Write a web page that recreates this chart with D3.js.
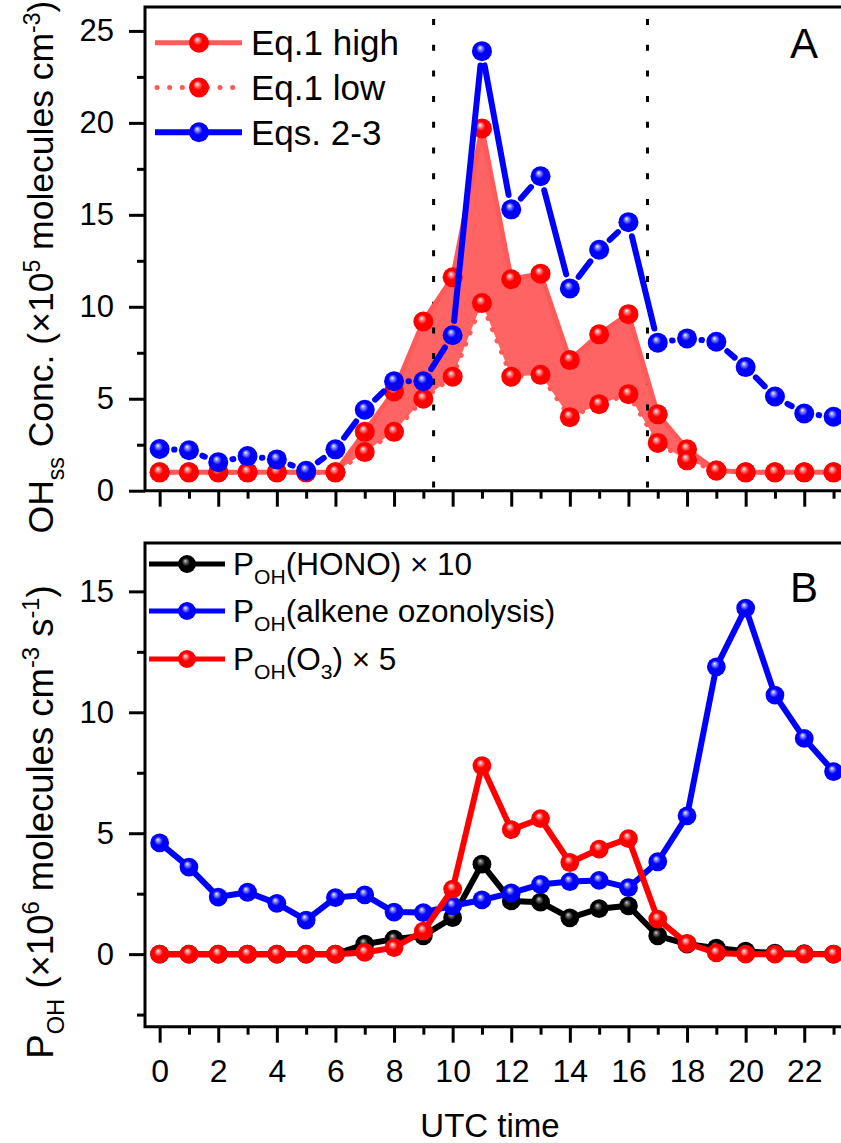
<!DOCTYPE html>
<html><head><meta charset="utf-8">
<script src="https://cdn.jsdelivr.net/npm/d3@7"></script>
<style>
body{margin:0;background:#fff}
svg{display:block}
text{font-family:Arial,"Liberation Sans",sans-serif;fill:#000}
</style>
</head><body>
<svg id="c" width="841" height="1143"></svg>
<script>
// ---------------- data ----------------
const hours = [0,1,2,3,4,5,6,7,8,9,10,11,12,13,14,15,16,17,18,19,20,21,22,23];
// Panel A: OHss concentration (x1e5 molecules cm-3)
const eq1High = [1.0,1.0,1.0,1.0,1.0,1.0,1.0,3.2,5.4,9.2,11.6,19.7,11.5,11.8,7.1,8.5,9.6,4.15,2.25,1.1,1.0,1.0,1.0,1.0];
const eq1Low  = [1.0,1.0,1.0,1.0,1.0,1.0,1.0,2.1,3.2,5.0,6.2,10.2,6.2,6.3,4.0,4.7,5.25,2.6,1.65,1.1,1.0,1.0,1.0,1.0];
const eqs23   = [2.27,2.2,1.55,1.88,1.7,1.08,2.25,4.4,5.95,5.95,8.45,23.9,15.3,17.1,11.0,13.1,14.6,8.05,8.28,8.1,6.72,5.12,4.2,4.02];
// Panel B: P_OH (x1e6 molecules cm-3 s-1)
const honoX10 = [0,0,0,0,0,0,0,0.41,0.62,0.76,1.51,3.72,2.2,2.15,1.5,1.88,2.0,0.76,0.42,0.25,0.12,0.04,0.02,0];
const alkene  = [4.6,3.6,2.36,2.56,2.1,1.41,2.34,2.45,1.74,1.72,2.0,2.24,2.53,2.88,3.0,3.05,2.75,3.82,5.72,11.88,14.31,10.71,8.92,7.55];
const o3X5    = [0,0,0,0,0,0,0,0.07,0.27,0.95,2.69,7.79,5.15,5.6,3.79,4.34,4.78,1.45,0.44,0.05,0,0,0,0];
const dayBounds = [9.35, 16.65];
// ticks
const xMajor = [0,2,4,6,8,10,12,14,16,18,20,22];
const xMinor = [1,3,5,7,9,11,13,15,17,19,21,23];
const aMajor = [0,5,10,15,20,25];
const aMinor = [2.5,7.5,12.5,17.5,22.5];
const bMajor = [0,5,10,15];
const bMinor = [-2.5,2.5,7.5,12.5];

// ---------------- setup ----------------
const svg = d3.select("#c");
const W = 841;
const X0 = 145, X1 = 848.2;
const x = d3.scaleLinear().domain([-0.5, 23.5]).range([X0, X1]);
const yA = d3.scaleLinear().domain([0, 26.3]).range([490.7, 7]);
const yB = d3.scaleLinear().domain([-3, 17]).range([1026.7, 543]);

const defs = svg.append("defs");
function ball(id, base, mid, hi) {
  const g = defs.append("radialGradient").attr("id", id)
    .attr("cx", "50%").attr("cy", "50%").attr("r", "55%")
    .attr("fx", "40%").attr("fy", "32%");
  g.append("stop").attr("offset", "0%").attr("stop-color", hi);
  g.append("stop").attr("offset", "14%").attr("stop-color", mid);
  g.append("stop").attr("offset", "42%").attr("stop-color", base);
  g.append("stop").attr("offset", "100%").attr("stop-color", base);
}
ball("gRed", "#ff0000", "#ff9a9a", "#ffffff");
ball("gBlue", "#0000ff", "#9a9aff", "#ffffff");
ball("gBlack", "#000000", "#777777", "#d8d8d8");

function markers(g, y, vals, grad, r) {
  g.append("g").selectAll("circle").data(hours).join("circle")
    .attr("cx", d => x(d)).attr("cy", (d, i) => y(vals[i]))
    .attr("r", r).attr("fill", `url(#${grad})`);
}

// ---------------- Panel A ----------------
const gA = svg.append("g");
const area = d3.area().x((d, i) => x(hours[i])).y0((d, i) => yA(eq1Low[i])).y1((d, i) => yA(eq1High[i]));
gA.append("path").datum(eq1High).attr("d", area).attr("fill", "#ff6464");

// day boundary dotted lines
gA.selectAll("line.vb").data(dayBounds).join("line").attr("class", "vb")
  .attr("x1", d => x(d)).attr("x2", d => x(d)).attr("y1", yA.range()[1] + 12).attr("y2", yA.range()[0])
  .attr("stroke", "#000").attr("stroke-width", 3).attr("stroke-dasharray", "6,19.7");

const lineA = d3.line().x((d, i) => x(hours[i])).y(d => yA(d));
gA.append("path").datum(eq1High).attr("d", lineA).attr("fill", "none")
  .attr("stroke", "#ff5a5a").attr("stroke-width", 5).attr("stroke-linejoin", "round");
gA.append("path").datum(eq1Low).attr("d", lineA).attr("fill", "none")
  .attr("stroke", "#ff5a5a").attr("stroke-width", 5).attr("stroke-linecap", "round")
  .attr("stroke-dasharray", "0.1,12");
markers(gA, yA, eq1High, "gRed", 10);
markers(gA, yA, eq1Low, "gRed", 10);

// blue line with gaps at symbols
const gap = 14.5;
const segs = d3.pairs(hours.map((h, i) => [x(h), yA(eqs23[i])]));
gA.append("g").selectAll("line").data(segs).join("line")
  .each(function([p, q]) {
    const dx = q[0] - p[0], dy = q[1] - p[1], L = Math.hypot(dx, dy);
    const ux = dx / L, uy = dy / L;
    let a = gap, b = L - gap;
    if (b <= a) { const m = L / 2; a = m - 0.05; b = m + 0.05; }
    d3.select(this).attr("x1", p[0] + ux * a).attr("y1", p[1] + uy * a)
      .attr("x2", p[0] + ux * b).attr("y2", p[1] + uy * b);
  })
  .attr("stroke", "#0000ff").attr("stroke-width", 6).attr("stroke-linecap", "round");
markers(gA, yA, eqs23, "gBlue", 10);

// ---------------- Panel B ----------------
const gB = svg.append("g");
const lineB = d3.line().x((d, i) => x(hours[i])).y(d => yB(d));
[[honoX10, "#000000", "gBlack"], [alkene, "#0000ff", "gBlue"], [o3X5, "#ff0000", "gRed"]].forEach(([vals, col, grad]) => {
  gB.append("path").datum(vals).attr("d", lineB).attr("fill", "none")
    .attr("stroke", col).attr("stroke-width", 6).attr("stroke-linejoin", "round");
  markers(gB, yB, vals, grad, 9.4);
});

// ---------------- axes ----------------
function styleAxis(g, fs) {
  g.selectAll("path.domain").remove();
  g.selectAll("line").attr("stroke", "#000").attr("stroke-width", 3);
  g.selectAll("text").attr("font-size", fs).attr("fill", "#000");
}
function frame(y, yMaj, yMin, labelsX) {
  const [yb, yt] = y.range();
  const gl = svg.append("g").attr("transform", `translate(${X0},0)`);
  gl.call(d3.axisLeft(y).tickValues(yMaj).tickSize(16).tickPadding(15).tickFormat(d3.format("d")));
  styleAxis(gl, 31);
  const gl2 = svg.append("g").attr("transform", `translate(${X0},0)`);
  gl2.call(d3.axisLeft(y).tickValues(yMin).tickSize(8).tickFormat(""));
  styleAxis(gl2, 31);
  const gx = svg.append("g").attr("transform", `translate(0,${yb})`);
  gx.call(d3.axisBottom(x).tickValues(xMajor).tickSize(16).tickPadding(17).tickFormat(labelsX ? d3.format("d") : ""));
  styleAxis(gx, 32);
  const gx2 = svg.append("g").attr("transform", `translate(0,${yb})`);
  gx2.call(d3.axisBottom(x).tickValues(xMinor).tickSize(8).tickFormat(""));
  styleAxis(gx2, 32);
  svg.append("path").attr("d", `M${W + 5},${yt}H${X0}V${yb}H${W + 5}`)
    .attr("fill", "none").attr("stroke", "#000").attr("stroke-width", 3).attr("stroke-linecap", "square");
}
frame(yA, aMajor, aMinor, false);
frame(yB, bMajor, bMinor, true);

// ---------------- text ----------------
function rich(parent, parts, size, ratio) {
  let shift = 0;
  parts.forEach(([s, m]) => {
    const sp = parent.append("tspan").text(s);
    let target = 0, fs = size;
    if (m === "sub") { target = size * 0.3; fs = size * ratio; }
    if (m === "sup") { target = -size * 0.38; fs = size * ratio; }
    sp.attr("font-size", fs).attr("dy", target - shift);
    shift = target;
  });
}
// y titles
const tA = svg.append("text").attr("transform", "translate(53,267) rotate(-90)").attr("text-anchor", "middle").attr("font-size", 35.5);
rich(tA, [["OH", "n"], ["ss", "sub"], [" Conc. (\u00d710", "n"], ["5", "sup"], [" molecules cm", "n"], ["-3", "sup"], [")", "n"]], 35.5, 0.65);
const tB = svg.append("text").attr("transform", "translate(53,822) rotate(-90)").attr("text-anchor", "middle").attr("font-size", 36.5);
rich(tB, [["P", "n"], ["OH", "sub"], [" (\u00d710", "n"], ["6", "sup"], [" molecules cm", "n"], ["-3", "sup"], [" s", "n"], ["-1", "sup"], [")", "n"]], 36.5, 0.65);
svg.append("text").attr("x", 490).attr("y", 1136.7).attr("text-anchor", "middle").attr("font-size", 33).text("UTC time");

// panel letters
svg.append("text").attr("x", 804).attr("y", 58).attr("text-anchor", "middle").attr("font-size", 42).text("A");
svg.append("text").attr("x", 804).attr("y", 602).attr("text-anchor", "middle").attr("font-size", 42).text("B");

// ---------------- legends ----------------
const legA = [
  {label: "Eq.1 high", col: "#ff5a5a", dash: null, grad: "gRed", w: 5},
  {label: "Eq.1 low", col: "#ff5a5a", dash: "0.1,12.5", grad: "gRed", w: 5},
  {label: "Eqs. 2-3", col: "#0000ff", dash: null, grad: "gBlue", w: 6}
];
const legAY = [42.7, 87.5, 132.3];
legA.forEach((d, i) => {
  const g = svg.append("g").attr("transform", `translate(0,${legAY[i]})`);
  const ln = g.append("line").attr("x1", d.dash ? 157 : 155).attr("x2", 242).attr("y1", 0).attr("y2", 0)
    .attr("stroke", d.col).attr("stroke-width", d.w);
  if (d.dash) ln.attr("stroke-dasharray", d.dash).attr("stroke-linecap", "round");
  g.append("circle").attr("cx", 199).attr("cy", 0).attr("r", 10).attr("fill", `url(#${d.grad})`);
  g.append("text").attr("x", 251).attr("y", 12.5).attr("font-size", 35).text(d.label);
});

const legB = [
  {parts: [["P", "n"], ["OH", "sub"], ["(HONO) \u00d7 10", "n"]], col: "#000", grad: "gBlack"},
  {parts: [["P", "n"], ["OH", "sub"], ["(alkene ozonolysis)", "n"]], col: "#0000ff", grad: "gBlue"},
  {parts: [["P", "n"], ["OH", "sub"], ["(O", "n"], ["3", "sub"], [") \u00d7 5", "n"]], col: "#ff0000", grad: "gRed"}
];
const legBY = [564, 611, 659];
legB.forEach((d, i) => {
  const g = svg.append("g").attr("transform", `translate(0,${legBY[i]})`);
  g.append("line").attr("x1", 149).attr("x2", 225).attr("y1", 0).attr("y2", 0)
    .attr("stroke", d.col).attr("stroke-width", 5);
  g.append("circle").attr("cx", 187).attr("cy", 0).attr("r", 9).attr("fill", `url(#${d.grad})`);
  const t = g.append("text").attr("x", 233).attr("y", 11).attr("font-size", 31.5);
  rich(t, d.parts, 31.5, 0.67);
});
</script>
</body></html>
